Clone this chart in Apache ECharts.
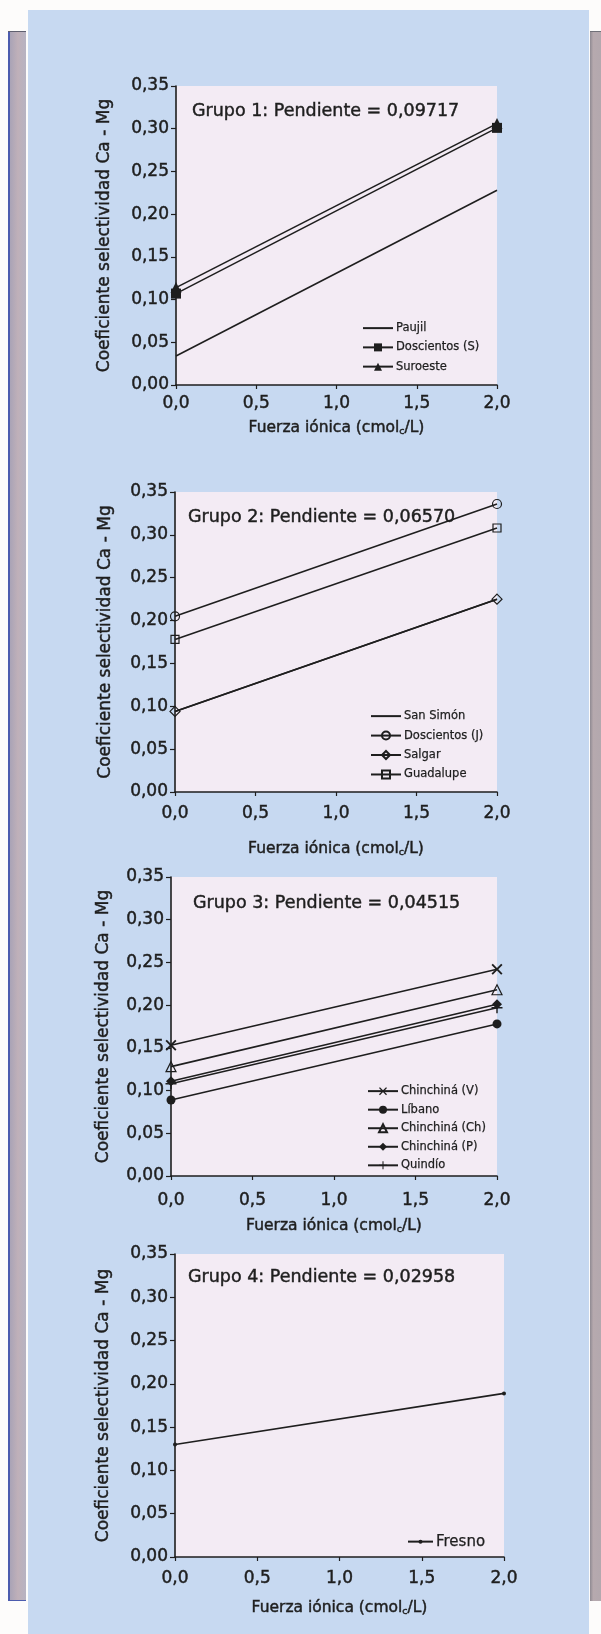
<!DOCTYPE html>
<html>
<head>
<meta charset="utf-8">
<script src="https://cdn.jsdelivr.net/npm/echarts@6/dist/echarts.min.js"></script>
<style>
html,body{margin:0;padding:0;background:#ffffff;}
#wrap{position:relative;width:601px;height:1634px;overflow:hidden;background:#fdfcfb;}
#panel{position:absolute;left:28px;top:10px;width:561px;height:1624px;background:#c7d9f1;}
#stripL{position:absolute;left:8px;top:31px;width:18px;height:1568px;
  background:linear-gradient(to right,#4c5cae 0,#4c5cae 2px,#a9a3b6 2px,#bfb0b9 55%,#b7b3c2 100%);
  border-top:1px solid #606070;border-bottom:1px solid #4c5cae;}
#stripR{position:absolute;left:590px;top:31px;width:11px;height:1569px;
  background:linear-gradient(to right,#8f8a92 0,#b6a9ae 30%,#b3a8ae 100%);border-top:1px solid #707078;}
#chart{position:absolute;left:0;top:0;width:601px;height:1634px;}
</style>
</head>
<body>
<div id="wrap">
  <div id="panel"></div>
  <div id="stripL"></div>
  <div id="stripR"></div>
  <div id="chart"></div>
</div>
<script>
// ---------------- DATA ----------------
const fuerzaIonica = [0.0, 2.0];
const xTickLabels = ['0,0', '0,5', '1,0', '1,5', '2,0'];
const yTickLabels = ['0,00', '0,05', '0,10', '0,15', '0,20', '0,25', '0,30', '0,35'];

const titulos = [
  'Grupo 1: Pendiente = 0,09717',
  'Grupo 2: Pendiente = 0,06570',
  'Grupo 3: Pendiente = 0,04515',
  'Grupo 4: Pendiente = 0,02958'
];

// Grupo 1
const paujil = [0.034, 0.228];
const doscientosS = [0.107, 0.301];
const suroeste = [0.114, 0.306];
// Grupo 2
const sanSimon = [0.094, 0.225];
const doscientosJ = [0.205, 0.336];
const salgar = [0.094, 0.225];
const guadalupe = [0.178, 0.308];
// Grupo 3
const chinchinaV = [0.153, 0.242];
const libano = [0.089, 0.178];
const chinchinaCh = [0.128, 0.218];
const chinchinaP = [0.111, 0.201];
const quindio = [0.108, 0.197];
// Grupo 4
const fresno = [0.130, 0.189];

// ---------------- STYLE / LAYOUT ----------------
const FONT = 'DejaVu Sans';
const INK = '#1e1e1e';
const PLOT_BG = '#f3ebf4';
const BOLDEN = {textBorderColor: INK, textBorderWidth: 0.45};

const layout = [
  {left:176, top:86,  width:321, height:299, labM:10, nameGap:34, yGap:63,
   title:{left:192, top:101}, legend:{left:362, top:322, gap:7, w:30, h:10, fs:11.5}},
  {left:175, top:492, width:322, height:300, labM:13, nameGap:48, yGap:61,
   title:{left:188, top:507}, legend:{left:370, top:710, gap:7.2, w:30, h:10, fs:11.5}},
  {left:171, top:877, width:326, height:299, labM:16, nameGap:41, yGap:59,
   title:{left:193, top:893}, legend:{left:367, top:1085, gap:6.3, w:30, h:10, fs:11.5}},
  {left:175, top:1254, width:329, height:303, labM:13, nameGap:42, yGap:63,
   title:{left:188, top:1267}, legend:{left:407, top:1534, gap:8, w:25, h:5, fs:15}}
];

const X_PATH = 'path://M0,1.2L1.2,0L5,3.8L8.8,0L10,1.2L6.2,5L10,8.8L8.8,10L5,6.2L1.2,10L0,8.8L3.8,5Z';
const PLUS_PATH = 'path://M4.35,0H5.65V4.35H10V5.65H5.65V10H4.35V5.65H0V4.35H4.35Z';

function pts(vals) {
  return fuerzaIonica.map((x, i) => [x, vals[i]]);
}

function serie(name, vals, gi, symbol, size, kind) {
  let itemStyle;
  if (kind === 'hollow') itemStyle = {color: 'rgba(0,0,0,0)', borderColor: INK, borderWidth: 1.2};
  else if (kind === 'plain') itemStyle = {color: 'rgba(0,0,0,0)', borderColor: 'rgba(0,0,0,0)', borderWidth: 0};
  else itemStyle = {color: INK, borderColor: INK, borderWidth: 0};
  return {
    name: name,
    type: 'line',
    xAxisIndex: gi,
    yAxisIndex: gi,
    data: pts(vals),
    symbol: symbol,
    symbolSize: size,
    showSymbol: symbol !== 'none',
    clip: false,
    z: 3,
    lineStyle: {color: INK, width: 1.6},
    itemStyle: itemStyle,
    emphasis: {disabled: true},
    animation: false
  };
}

const series = [
  serie('Paujil', paujil, 0, 'none', 0, 'plain'),
  serie('Doscientos (S)', doscientosS, 0, 'rect', 10, 'solid'),
  serie('Suroeste', suroeste, 0, 'triangle', 11, 'solid'),

  serie('San Simón', sanSimon, 1, 'none', 0, 'plain'),
  serie('Doscientos (J)', doscientosJ, 1, 'circle', 9, 'hollow'),
  serie('Salgar', salgar, 1, 'diamond', 10, 'hollow'),
  serie('Guadalupe', guadalupe, 1, 'rect', 8, 'hollow'),

  serie('Chinchiná (V)', chinchinaV, 2, X_PATH, 11, 'solid'),
  serie('Líbano', libano, 2, 'circle', 9, 'solid'),
  serie('Chinchiná (Ch)', chinchinaCh, 2, 'triangle', 10, 'hollow'),
  serie('Chinchiná (P)', chinchinaP, 2, 'diamond', 10, 'solid'),
  serie('Quindío', quindio, 2, PLUS_PATH, 11, 'solid'),

  serie('Fresno', fresno, 3, 'circle', 4, 'solid')
];

const legendGroups = [
  ['Paujil', 'Doscientos (S)', 'Suroeste'],
  ['San Simón', 'Doscientos (J)', 'Salgar', 'Guadalupe'],
  ['Chinchiná (V)', 'Líbano', 'Chinchiná (Ch)', 'Chinchiná (P)', 'Quindío'],
  ['Fresno']
];

const grids = [], xAxes = [], yAxes = [], titles = [], legends = [];
layout.forEach((L, i) => {
  grids.push({left: L.left, top: L.top, width: L.width, height: L.height,
              show: true, backgroundColor: PLOT_BG, borderWidth: 0});
  xAxes.push({
    type: 'value', gridIndex: i, min: 0, max: 2, interval: 0.5,
    axisLine: {show: true, onZero: false, lineStyle: {color: INK, width: 1.6}},
    axisTick: {show: true, inside: false, length: 4, lineStyle: {color: INK, width: 1.2}},
    splitLine: {show: false},
    axisLabel: Object.assign({margin: L.labM, color: INK, fontFamily: FONT, fontSize: 17,
                formatter: v => xTickLabels[Math.round(v / 0.5)]}, BOLDEN),
    name: 'Fuerza iónica (cmol{s|c}/L)',
    nameLocation: 'middle', nameGap: L.nameGap, nameMoveOverlap: false,
    nameTextStyle: Object.assign({color: INK, fontFamily: FONT, fontSize: 15.5, lineHeight: 18,
      rich: {s: Object.assign({fontSize: 9.5, fontFamily: FONT, color: INK, verticalAlign: 'bottom', lineHeight: 12}, BOLDEN)}}, BOLDEN)
  });
  yAxes.push({
    type: 'value', gridIndex: i, min: 0, max: 0.35, interval: 0.05,
    axisLine: {show: true, onZero: false, lineStyle: {color: INK, width: 1.6}},
    axisTick: {show: true, inside: false, length: 5, lineStyle: {color: INK, width: 1.2}},
    splitLine: {show: false},
    axisLabel: Object.assign({margin: 7, color: INK, fontFamily: FONT, fontSize: 17,
                formatter: v => yTickLabels[Math.round(v / 0.05)]}, BOLDEN),
    name: 'Coeficiente selectividad Ca - Mg',
    nameLocation: 'middle', nameGap: L.yGap, nameMoveOverlap: false,
    nameTextStyle: Object.assign({color: INK, fontFamily: FONT, fontSize: 17}, BOLDEN)
  });
  titles.push({
    text: titulos[i], left: L.title.left, top: L.title.top, padding: 0,
    textStyle: Object.assign({color: INK, fontFamily: FONT, fontSize: 17.5, fontWeight: 'normal', lineHeight: 20}, BOLDEN)
  });
  legends.push({
    data: legendGroups[i], orient: 'vertical', left: L.legend.left, top: L.legend.top,
    padding: 0, itemGap: L.legend.gap, itemWidth: L.legend.w, itemHeight: L.legend.h,
    selectedMode: false,
    textStyle: {color: INK, fontFamily: FONT, fontSize: L.legend.fs,
                padding: [0, 0, 0, -2], textBorderColor: INK, textBorderWidth: 0.25}
  });
});

const chart = echarts.init(document.getElementById('chart'), null, {renderer: 'canvas'});
chart.setOption({
  animation: false,
  backgroundColor: 'transparent',
  textStyle: {fontFamily: FONT},
  title: titles,
  legend: legends,
  grid: grids,
  xAxis: xAxes,
  yAxis: yAxes,
  series: series
});
</script>
</body>
</html>
